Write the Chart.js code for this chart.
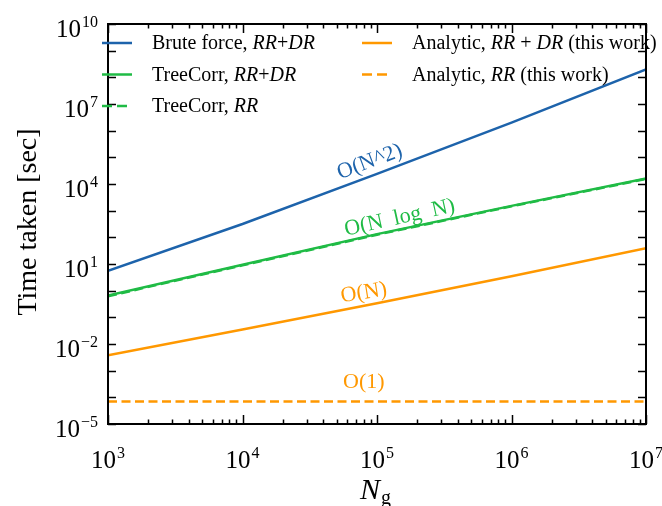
<!DOCTYPE html>
<html lang="en">
<head>
  <meta charset="UTF-8">
  <title>Time taken vs N_g</title>
  <script src="https://cdn.jsdelivr.net/npm/chart.js"></script>
  <style>
    html, body { margin: 0; padding: 0; background: #fff; }
    #wrap { width: 662px; height: 506px; }
  </style>
</head>
<body>
  <div id="wrap"><canvas id="grafico" width="662" height="506"></canvas></div>

  <script>
    // datos (segundos)
    const nGal = [1e3, 1e4, 1e5, 1e6, 1e7];
    const bruteRRDR = [5.6, 316, 2.4e4, 2.0e6, 2.0e8];
    const treeRRDR = [0.65, 9.3, 132, 1510, 16200];
    const treeRR = [0.62, 8.9, 126, 1450, 15500];
    const analyticRRDR = [0.0038, 0.035, 0.34, 3.5, 39];
    const analyticRR = [7e-5, 7e-5, 7e-5, 7e-5, 7e-5];

    const xDecades = [3, 4, 5, 6, 7];
    const yDecades = [-5, -4, -3, -2, -1, 0, 1, 2, 3, 4, 5, 6, 7, 8, 9, 10];
    const yLabelDecades = [-5, -2, 1, 4, 7, 10];

    // texto de la leyenda: [texto, cursiva]
    const legendParts = [
      [['Brute force, ', false], ['RR', true], ['+', false], ['DR', true]],
      [['TreeCorr, ', false], ['RR', true], ['+', false], ['DR', true]],
      [['TreeCorr, ', false], ['RR', true]],
      [['Analytic, ', false], ['RR', true], [' + ', false], ['DR', true], [' (this work)', false]],
      [['Analytic, ', false], ['RR', true], [' (this work)', false]]
    ];

    const scalingLabels = ['O(N^2)', 'O(N  log  N)', 'O(N)', 'O(1)'];

    const AZUL = '#1d63ab';
    const VERDE = '#1fbb45';
    const NARANJA = '#ff9800';
    const SERIF = '"Liberation Serif", "DejaVu Serif", serif';

    function serie(label, data, color, dash) {
      return {
        label: label,
        data: data.map((v, i) => ({ x: nGal[i], y: v })),
        borderColor: color,
        borderWidth: 2.5,
        borderDash: dash || [],
        pointRadius: 0,
        tension: 0,
        fill: false
      };
    }

    function drawPow(ctx, exp, x, y, align) {
      // "10" con exponente en superindice
      const base = '10';
      const sup = exp < 0 ? '\u2212' + Math.abs(exp) : String(exp);
      ctx.font = '25px ' + SERIF;
      const wb = ctx.measureText(base).width;
      ctx.font = '16px ' + SERIF;
      const ws = ctx.measureText(sup).width;
      const total = wb + ws + 1;
      let x0 = x;
      if (align === 'right') x0 = x - total;
      if (align === 'center') x0 = x - total / 2;
      ctx.textAlign = 'left';
      ctx.textBaseline = 'alphabetic';
      ctx.font = '25px ' + SERIF;
      ctx.fillText(base, x0, y);
      ctx.font = '16px ' + SERIF;
      ctx.fillText(sup, x0 + wb + 1, y - 10);
    }

    const marcoEjes = {
      id: 'marcoEjes',
      afterDraw(chart) {
        const ctx = chart.ctx;
        const a = chart.chartArea;
        const xs = chart.scales.x;
        const ys = chart.scales.y;
        ctx.save();
        ctx.fillStyle = '#000';
        ctx.strokeStyle = '#000';

        // ticks hacia dentro, los cuatro lados
        ctx.lineWidth = 1.5;
        ctx.beginPath();
        xDecades.forEach(d => {
          for (let k = 1; k <= 9; k++) {
            const v = k * Math.pow(10, d);
            if (v > xs.max * 1.0001) break;
            const px = Math.round(xs.getPixelForValue(v)) + 0.5;
            const len = k === 1 ? 9 : 4.5;
            ctx.moveTo(px, a.bottom); ctx.lineTo(px, a.bottom - len);
            ctx.moveTo(px, a.top); ctx.lineTo(px, a.top + len);
          }
        });
        yDecades.forEach(d => {
          const py = Math.round(ys.getPixelForValue(Math.pow(10, d))) + 0.5;
          ctx.moveTo(a.left, py); ctx.lineTo(a.left + 8, py);
          ctx.moveTo(a.right, py); ctx.lineTo(a.right - 8, py);
        });
        ctx.stroke();

        // marco
        ctx.lineWidth = 2;
        ctx.strokeRect(a.left, a.top, a.right - a.left, a.bottom - a.top);

        // etiquetas de los ejes
        xDecades.forEach(d => {
          drawPow(ctx, d, xs.getPixelForValue(Math.pow(10, d)), a.bottom + 44, 'center');
        });
        yLabelDecades.forEach(d => {
          drawPow(ctx, d, a.left - 10, ys.getPixelForValue(Math.pow(10, d)) + 13, 'right');
        });

        // titulo eje y
        ctx.save();
        ctx.translate(29, (a.top + a.bottom) / 2 - 2);
        ctx.rotate(-Math.PI / 2);
        ctx.font = '28px ' + SERIF;
        ctx.textAlign = 'center';
        ctx.textBaseline = 'middle';
        ctx.fillText('Time taken [sec]', 0, 0);
        ctx.restore();

        // titulo eje x: N_g
        ctx.font = 'italic 30px ' + SERIF;
        const wN = ctx.measureText('N').width;
        ctx.font = '20px ' + SERIF;
        const wg = ctx.measureText('g').width;
        const cx = (a.left + a.right) / 2 - (wN + wg) / 2 - 2;
        ctx.textAlign = 'left';
        ctx.textBaseline = 'alphabetic';
        ctx.font = 'italic 30px ' + SERIF;
        ctx.fillText('N', cx, 499);
        ctx.font = '20px ' + SERIF;
        ctx.fillText('g', cx + wN + 1, 504);

        // leyenda
        const cols = [
          { x: 102, rows: [0, 1, 2] },
          { x: 362, rows: [3, 4] }
        ];
        cols.forEach(col => {
          col.rows.forEach((idx, r) => {
            const ds = chart.data.datasets[idx];
            const y = 43 + r * 31.5;
            ctx.beginPath();
            ctx.lineWidth = 2.5;
            ctx.strokeStyle = ds.borderColor;
            ctx.setLineDash(ds.borderDash.length ? [10, 5] : []);
            ctx.moveTo(col.x, y);
            ctx.lineTo(col.x + 30, y);
            ctx.stroke();
            ctx.setLineDash([]);
            let tx = col.x + 50;
            ctx.fillStyle = '#000';
            ctx.textBaseline = 'middle';
            ctx.textAlign = 'left';
            legendParts[idx].forEach(p => {
              ctx.font = (p[1] ? 'italic ' : '') + '20px ' + SERIF;
              ctx.fillText(p[0], tx, y + 1);
              tx += ctx.measureText(p[0]).width;
            });
          });
        });

        // etiquetas de escalado
        const notas = chart.options.plugins.marcoEjes.notas;
        notas.forEach(n => {
          ctx.save();
          ctx.translate(xs.getPixelForValue(n.x), ys.getPixelForValue(n.y));
          ctx.rotate(n.ang * Math.PI / 180);
          ctx.font = '22px ' + SERIF;
          ctx.fillStyle = n.color;
          ctx.textAlign = 'center';
          ctx.textBaseline = 'middle';
          ctx.fillText(n.text, 0, 0);
          ctx.restore();
        });

        ctx.restore();
      }
    };

    new Chart(document.getElementById('grafico'), {
      type: 'line',
      data: {
        datasets: [
          serie('Brute force, RR+DR', bruteRRDR, AZUL),
          serie('TreeCorr, RR+DR', treeRRDR, VERDE),
          serie('TreeCorr, RR', treeRR, VERDE, [9, 4.5]),
          serie('Analytic, RR + DR (this work)', analyticRRDR, NARANJA),
          serie('Analytic, RR (this work)', analyticRR, NARANJA, [9, 4.5])
        ]
      },
      options: {
        responsive: false,
        animation: false,
        devicePixelRatio: 1,
        layout: { padding: { left: 108, top: 24, right: 16, bottom: 82 } },
        scales: {
          x: { type: 'logarithmic', min: 1e3, max: 1e7, display: false },
          y: { type: 'logarithmic', min: 1e-5, max: 1e10, display: false }
        },
        plugins: {
          legend: { display: false },
          tooltip: { enabled: false },
          marcoEjes: {
            notas: [
              { text: scalingLabels[0], x: Math.pow(10, 4.946), y: Math.pow(10, 4.826), ang: -20.5, color: AZUL },
              { text: scalingLabels[1], x: Math.pow(10, 5.169), y: Math.pow(10, 2.726), ang: -12.5, color: VERDE },
              { text: scalingLabels[2], x: Math.pow(10, 4.902), y: Math.pow(10, -0.086), ang: -9, color: NARANJA },
              { text: scalingLabels[3], x: Math.pow(10, 4.902), y: Math.pow(10, -3.42), ang: 0, color: NARANJA }
            ]
          }
        }
      },
      plugins: [marcoEjes]
    });
  </script>
</body>
</html>
